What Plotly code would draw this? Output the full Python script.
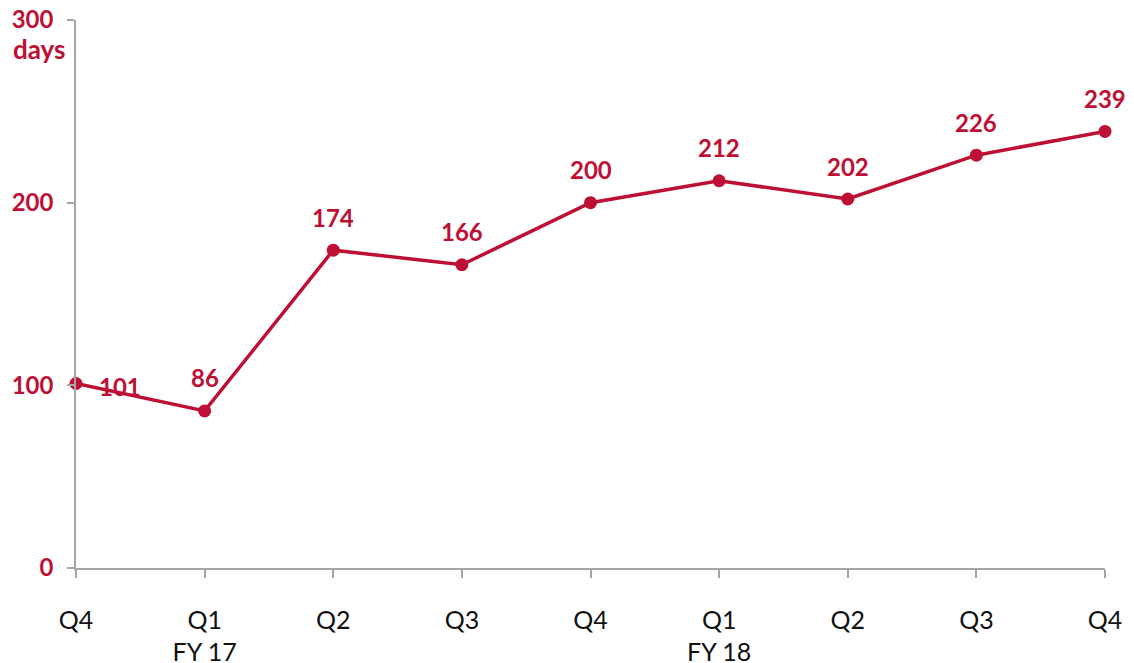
import plotly.graph_objects as go

categories = ["Q4", "Q1<br>FY 17", "Q2", "Q3", "Q4", "Q1<br>FY 18", "Q2", "Q3", "Q4"]
values = [101, 86, 174, 166, 200, 212, 202, 226, 239]
ytick_vals = [0, 100, 200, 300]
ytick_text = ["0", "100", "200", "300"]

RED = "#BE0F34"
GRAY = "#A6A6A6"
FONT = "Lato, 'Open Sans', sans-serif"

xs = list(range(len(categories)))

fig = go.Figure()
fig.add_trace(go.Scatter(
    x=xs, y=values, mode="lines+markers",
    line=dict(color=RED, width=3.5),
    marker=dict(color=RED, size=13),
    cliponaxis=False, showlegend=False, hoverinfo="skip",
))

for i, v in enumerate(values):
    if i == 0:
        fig.add_annotation(x=i, y=v, text=f"<b>{v}</b>", showarrow=False,
                           xshift=44, yshift=-3,
                           font=dict(family=FONT, size=24, color=RED))
    else:
        fig.add_annotation(x=i, y=v, text=f"<b>{v}</b>", showarrow=False,
                           yshift=33,
                           font=dict(family=FONT, size=24, color=RED))

fig.add_annotation(xref="paper", yref="y", x=0, y=300, text="<b>days</b>",
                   showarrow=False, xanchor="right", xshift=-9, yshift=-29,
                   font=dict(family=FONT, size=26, color=RED))

# page body has an 8px margin, so the figure is offset by 8px
fig.update_layout(
    width=1126, height=655,
    margin=dict(l=68, r=29, t=12, b=95),
    plot_bgcolor="white", paper_bgcolor="white",
    font=dict(family=FONT),
    xaxis=dict(
        range=[0, len(categories) - 1],
        tickmode="array", tickvals=xs, ticktext=categories,
        showgrid=False, zeroline=False, automargin=False,
        showline=True, linecolor=GRAY, linewidth=1.5,
        ticks="outside", ticklen=8, tickcolor=GRAY, tickwidth=1.5,
        ticklabelstandoff=21, ticklabeloverflow="allow",
        tickfont=dict(family=FONT, size=25, color="#111111"),
    ),
    yaxis=dict(
        range=[0, 300],
        tickmode="array", tickvals=ytick_vals, ticktext=[f"<b>{t}</b>" for t in ytick_text],
        showgrid=False, zeroline=False, automargin=False,
        showline=True, linecolor=GRAY, linewidth=1.5,
        ticks="outside", ticklen=7, tickcolor=GRAY, tickwidth=1.5,
        ticklabelstandoff=9, ticklabeloverflow="allow",
        tickfont=dict(family=FONT, size=24, color=RED),
    ),
)

fig.write_html("out.html")
